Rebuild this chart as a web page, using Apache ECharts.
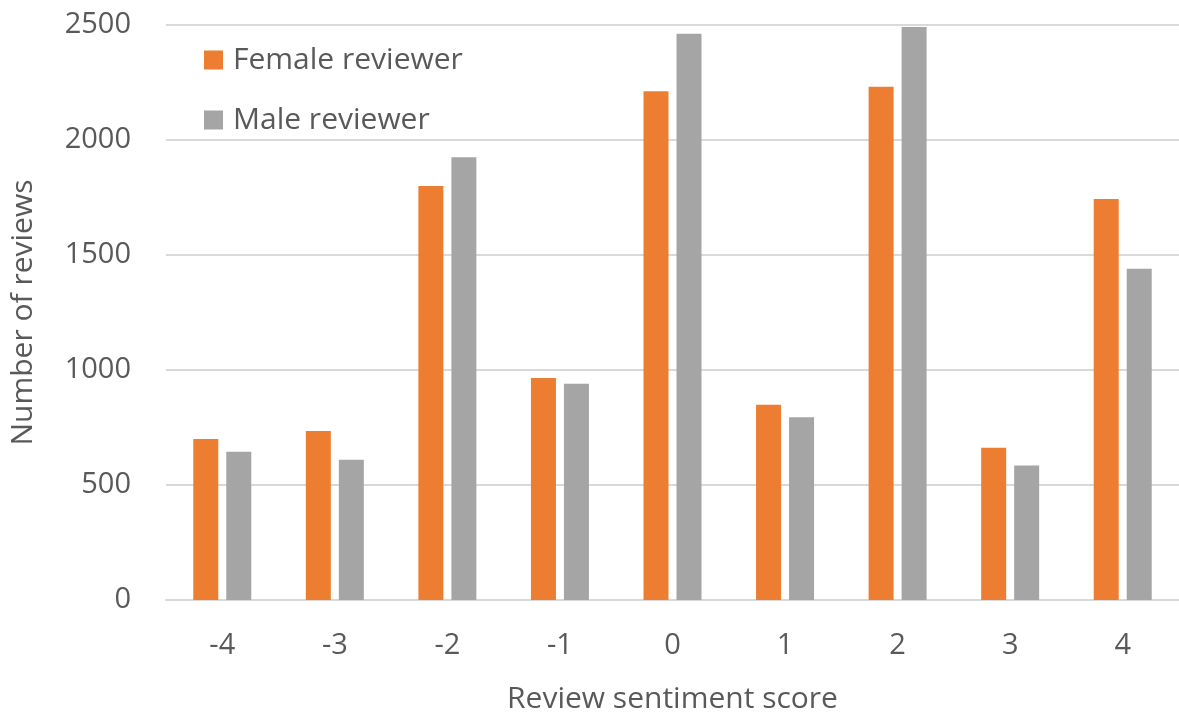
<!DOCTYPE html>
<html>
<head>
<meta charset="utf-8">
<script src="https://cdn.jsdelivr.net/npm/echarts@6/dist/echarts.min.js"></script>
<style>
  html, body { margin: 0; padding: 0; background: #ffffff; overflow: hidden; }
  #chart { width: 1179px; height: 719px; }
</style>
</head>
<body>
<div id="chart"></div>
<script>
// Review counts by sentiment score, split by reviewer gender
const scores = ['-4', '-3', '-2', '-1', '0', '1', '2', '3', '4'];
const femaleReviews = [700, 735, 1800, 965, 2212, 849, 2231, 662, 1743];
const maleReviews = [645, 610, 1925, 940, 2462, 795, 2491, 585, 1440];
const yTicks = { min: 0, max: 2500, interval: 500 };

const textColor = '#595959';
const gridColor = '#d9d9d9';
const fontFamily = '"Open Sans", "Noto Sans", sans-serif';

const chart = echarts.init(document.getElementById('chart'), null, { renderer: 'canvas' });

chart.setOption({
  backgroundColor: '#ffffff',
  animation: false,
  textStyle: { fontFamily: fontFamily, color: textColor },
  grid: { left: 155, top: 25, width: 1032, height: 588, containLabel: false },
  legend: {
    orient: 'vertical',
    left: 199,
    top: 40,
    itemWidth: 19,
    itemHeight: 19,
    itemGap: 30,
    icon: 'rect',
    textStyle: {
      fontSize: 30,
      color: textColor,
      fontFamily: fontFamily,
      lineHeight: 30,
      padding: [0, 0, 0, 5]
    },
    data: ['Female reviewer', 'Male reviewer']
  },
  xAxis: {
    type: 'category',
    data: scores,
    name: 'Review sentiment score',
    nameLocation: 'middle',
    nameGap: 84,
    nameTextStyle: { fontSize: 30, color: textColor, fontFamily: fontFamily },
    axisLine: { show: true, lineStyle: { color: gridColor, width: 2 } },
    axisTick: { show: false },
    axisLabel: { fontSize: 29, color: textColor, margin: 31, fontFamily: fontFamily },
    splitLine: { show: false }
  },
  yAxis: {
    type: 'value',
    min: yTicks.min,
    max: yTicks.max,
    interval: yTicks.interval,
    name: 'Number of reviews',
    nameLocation: 'middle',
    nameGap: 128,
    nameRotate: 90,
    nameTextStyle: { fontSize: 30, color: textColor, fontFamily: fontFamily },
    axisLine: { show: false },
    axisTick: { show: false },
    axisLabel: {
      fontSize: 29,
      color: textColor,
      margin: 35,
      fontFamily: fontFamily,
      formatter: function (v) { return String(v); }
    },
    splitLine: { show: true, lineStyle: { color: gridColor, width: 2 } }
  },
  series: [
    {
      name: 'Female reviewer',
      type: 'bar',
      data: femaleReviews,
      barWidth: 25,
      barGap: '32%',
      itemStyle: { color: '#ed7d31' }
    },
    {
      name: 'Male reviewer',
      type: 'bar',
      data: maleReviews,
      barWidth: 25,
      barGap: '32%',
      itemStyle: { color: '#a5a5a5' }
    }
  ]
});
</script>
</body>
</html>
